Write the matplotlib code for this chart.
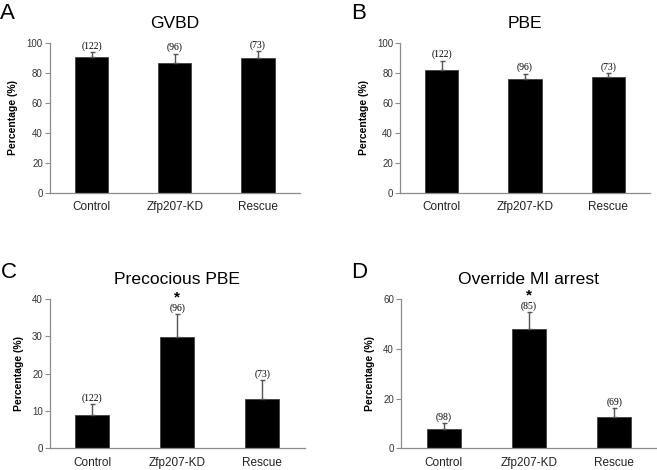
import numpy as np
import matplotlib
matplotlib.use("Agg")
import matplotlib.pyplot as plt

plt.rcParams['font.family'] = ['Liberation Sans', 'DejaVu Sans']

groups = ['Control', 'Zfp207-KD', 'Rescue']

gvbd = [91.1, 87.1, 90.4]
gvbd_err = [3.1, 6.0, 4.2]
gvbd_n = ['(122)', '(96)', '(73)']

pbe = [81.9, 75.9, 77.5]
pbe_err = [6.3, 3.6, 2.6]
pbe_n = ['(122)', '(96)', '(73)']

precocious = [8.8, 29.7, 13.1]
precocious_err = [3.0, 6.2, 5.1]
precocious_n = ['(122)', '(96)', '(73)']

override = [7.9, 47.9, 12.5]
override_err = [2.3, 6.7, 3.6]
override_n = ['(98)', '(85)', '(69)']

panels = [
    ('A', 'GVBD', gvbd, gvbd_err, gvbd_n, 100, 20, [], [0.0760, 0.590, 0.380, 0.318], (0.0, 0.9596)),
    ('B', 'PBE', pbe, pbe_err, pbe_n, 100, 20, [], [0.6090, 0.590, 0.380, 0.318], (0.535, 0.9596)),
    ('C', 'Precocious PBE', precocious, precocious_err, precocious_n, 40, 10, [1], [0.0760, 0.0462, 0.388, 0.3176], (0.002, 0.4085)),
    ('D', 'Override MI arrest', override, override_err, override_n, 60, 20, [1], [0.6105, 0.0462, 0.389, 0.3176], (0.535, 0.4085)),
]

fig = plt.figure(figsize=(6.57, 4.7), dpi=100)
gray = '#8c8c8c'

for letter, title, vals, errs, ns, ymax, step, stars, rect, lpos in panels:
    ax = fig.add_axes(rect)
    x = np.arange(len(groups))
    ax.bar(x, vals, width=0.4, color='black', edgecolor='#333333', linewidth=0.5,
           yerr=[np.zeros(len(errs)), errs], error_kw=dict(ecolor='#555555', elinewidth=1.0,
                                                          capsize=1.8, capthick=1.0))
    ax.set_xlim(-0.5, 2.5)
    ax.set_ylim(0, ymax)
    ax.set_yticks(np.arange(0, ymax + 1, step))
    ax.set_xticks(x)
    ax.set_xticklabels(groups, fontsize=8.5, color='#222222')
    ax.tick_params(axis='x', length=0, pad=6)
    ax.tick_params(axis='y', length=3.6, pad=1.5, color=gray, labelsize=7, labelcolor='#333333')
    for s in ['top', 'right']:
        ax.spines[s].set_visible(False)
    for s in ['left', 'bottom']:
        ax.spines[s].set_color(gray)
        ax.spines[s].set_linewidth(0.9)
    ax.set_ylabel('Percentage (%)', fontsize=7.5, fontweight='bold', labelpad=6)
    ax.set_title(title, fontsize=12.6, pad=11)
    for i in range(len(vals)):
        top = vals[i] + errs[i]
        lab = ax.annotate(ns[i], (x[i], top), xytext=(0, 1), textcoords='offset points',
                          ha='center', va='bottom', fontsize=7, family='Liberation Serif')
        if i in stars:
            # asterisk placed right on top of the sample-size label
            ax.annotate('*', xy=(0.5, 1.0), xycoords=lab, xytext=(0, -0.5),
                        textcoords='offset points', ha='center', va='bottom',
                        fontsize=11, fontweight='bold')
    fig.text(lpos[0], lpos[1], letter, fontsize=16, va='baseline', ha='left')

fig.savefig('out.png', dpi=100)
